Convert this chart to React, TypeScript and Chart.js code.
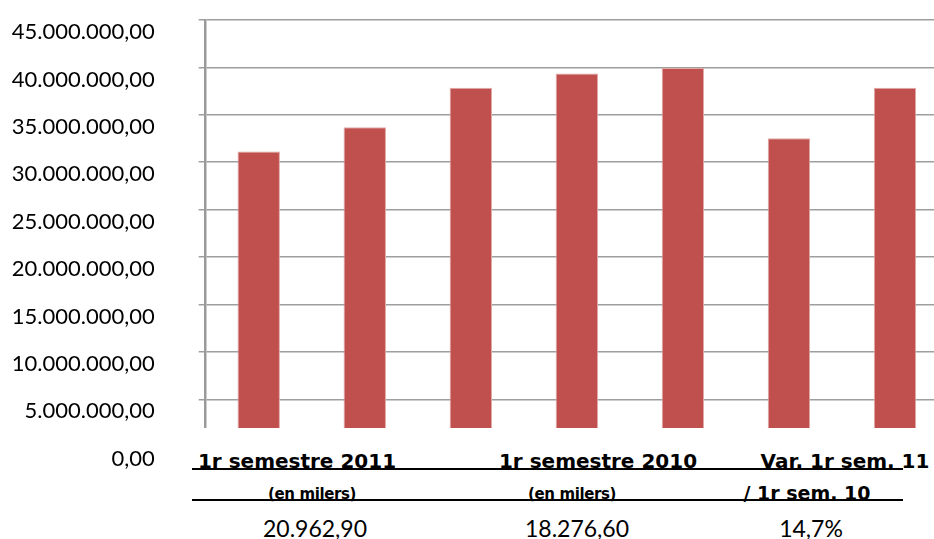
import React, { useEffect, useRef } from "react";
import { Chart, registerables } from "chart.js";

Chart.register(...registerables);

// ---- data ----
const categories = ["1", "2", "3", "4", "5", "6", "7"];
const values = [31130000, 33680000, 37860000, 39370000, 39940000, 32530000, 37860000];
const yMin = 0;
const yMax = 45000000;
const yStep = 5000000;

const tableHeaders = ["1r semestre 2011", "1r semestre 2010", "Var. 1r sem. 11"];
const tableSubHeaders = ["(en milers)", "(en milers)", "/ 1r sem. 10"];
const tableValues = ["20.962,90", "18.276,60", "14,7%"];

function fmt(v: number): string {
  const s = Math.round(v).toString().replace(/\B(?=(\d{3})+(?!\d))/g, ".");
  return s + ",00";
}

// layout (page pixels)
const headerCenters = [297, 598, 845];
const subCenters = [312, 572, 807];
const subSizes = [15, 15, 19];
const valueCenters = [315, 577, 811];

export default function App() {
  const ref = useRef<HTMLCanvasElement>(null);

  useEffect(() => {
    if (!ref.current) return;
    const chart = new Chart(ref.current, {
      type: "bar",
      data: {
        labels: categories,
        datasets: [
          {
            data: values,
            backgroundColor: "#C0504D",
            borderColor: "#E2A9A8",
            borderWidth: 1,
            barPercentage: 0.4,
            categoryPercentage: 1,
          },
        ],
      },
      options: {
        animation: false,
        responsive: true,
        maintainAspectRatio: false,
        layout: { padding: { top: 20, bottom: 92.3, left: 0, right: 0 } },
        plugins: { legend: { display: false }, tooltip: { enabled: false } },
        scales: {
          x: { display: false },
          y: {
            min: yMin,
            max: yMax,
            afterFit: (s: any) => {
              s.width = 205.7;
              s.paddingTop = 0;
              s.paddingBottom = 0;
            },
            border: { color: "#9a9a9a", width: 2.5 },
            grid: { color: "#9e9e9e", lineWidth: 1.5, tickLength: 7, drawTicks: true },
            ticks: {
              stepSize: yStep,
              padding: 44,
              labelOffset: 12,
              color: "#000",
              font: { family: "Lato", size: 22 },
              callback: (v: any) => fmt(Number(v)),
            },
          },
        },
      },
    });
    return () => chart.destroy();
  }, []);

  const textBase: React.CSSProperties = {
    position: "absolute",
    transform: "translateX(-50%)",
    whiteSpace: "nowrap",
    color: "#000",
    lineHeight: 1,
  };

  return (
    <div
      style={{
        position: "fixed",
        left: 0,
        top: 0,
        width: 934,
        height: 539,
        overflow: "hidden",
        background: "#fff",
      }}
    >
      <div style={{ position: "absolute", left: 0, top: 0, width: 948, height: 539 }}>
        <canvas ref={ref} />
      </div>
      <div
        style={{
          position: "absolute",
          left: 182,
          top: 428,
          width: 760,
          height: 111,
          background: "#fff",
        }}
      />
      <div style={{ position: "absolute", left: 192, top: 468, width: 711, height: 2, background: "#000" }} />
      <div style={{ position: "absolute", left: 192, top: 499, width: 711, height: 2, background: "#000" }} />
      {tableHeaders.map((t, i) => (
        <span
          key={"h" + i}
          style={{
            ...textBase,
            left: headerCenters[i],
            top: 451,
            fontFamily: "'DejaVu Sans'",
            fontWeight: "bold",
            fontSize: 20,
          }}
        >
          {t}
        </span>
      ))}
      {tableSubHeaders.map((t, i) => (
        <span
          key={"s" + i}
          style={{
            ...textBase,
            left: subCenters[i],
            top: i < 2 ? 487 : 484,
            fontFamily: "'DejaVu Sans'",
            fontWeight: "bold",
            fontSize: subSizes[i],
            letterSpacing: i < 2 ? -0.4 : 0,
          }}
        >
          {t}
        </span>
      ))}
      {tableValues.map((t, i) => (
        <span
          key={"v" + i}
          style={{
            ...textBase,
            left: valueCenters[i],
            top: 517,
            fontFamily: "Lato",
            fontSize: 23,
          }}
        >
          {t}
        </span>
      ))}
    </div>
  );
}
